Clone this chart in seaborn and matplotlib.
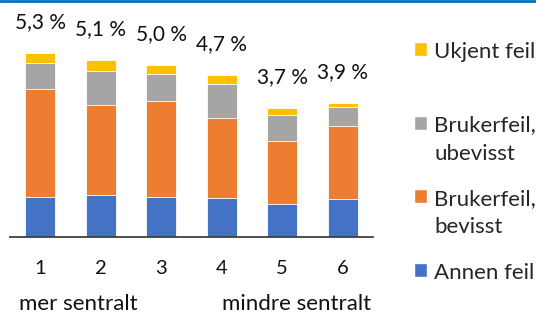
import matplotlib
matplotlib.use("Agg")
import matplotlib.pyplot as plt
import numpy as np
import pandas as pd
import seaborn as sns
from matplotlib.patches import Patch
from matplotlib.lines import Line2D

# data (share of cases, %)
categories = ["1", "2", "3", "4", "5", "6"]
annen_feil = [1.15, 1.20, 1.16, 1.11, 0.94, 1.08]
bruker_bevisst = [3.12, 2.61, 2.75, 2.31, 1.81, 2.10]
bruker_ubevisst = [0.74, 0.98, 0.79, 0.97, 0.76, 0.56]
ukjent_feil = [0.29, 0.31, 0.26, 0.28, 0.21, 0.12]
totals = [5.3, 5.1, 5.0, 4.7, 3.7, 3.9]

series = ["Annen feil", "Brukerfeil, bevisst", "Brukerfeil, ubevisst", "Ukjent feil"]
# every label two lines high so the legend rows are evenly spaced
legend_labels = ["Annen feil\n ", "Brukerfeil,\nbevisst", "Brukerfeil,\nubevisst", "Ukjent feil\n "]
COLORS = ["#4472C4", "#ED7D31", "#A5A5A5", "#FFC000"]

sns.set_style("white")
plt.rcParams["font.family"] = ["Lato", "DejaVu Sans"]

df = pd.DataFrame({"kat": categories, series[0]: annen_feil, series[1]: bruker_bevisst,
                   series[2]: bruker_ubevisst, series[3]: ukjent_feil})
cum = df[series].cumsum(axis=1)

fig = plt.figure(figsize=(5.36, 3.14), dpi=100)
ax = fig.add_axes([0.0187, 0.246, 0.677, 0.663])

# stacked bars: draw cumulative heights from the top segment down
for name, color in reversed(list(zip(series, COLORS))):
    sns.barplot(x=df["kat"], y=cum[name], color=color, width=0.5, ax=ax,
                edgecolor="white", linewidth=0.6, saturation=1)

for i, tot in enumerate(totals):
    ax.annotate(f"{tot:.1f} %".replace(".", ","), (i, cum[series[-1]][i]),
                xytext=(0, 22), textcoords="offset points", ha="center", va="center",
                fontsize=15, color="#111111", annotation_clip=False)

ax.set_xlim(-0.5, 5.5)
ax.set_ylim(0, 6)
ax.set_xlabel("")
ax.set_ylabel("")
ax.set_yticks([])
ax.tick_params(axis="x", length=0, pad=17, labelsize=14.5, labelcolor="#111111")
sns.despine(ax=ax, left=True)
ax.spines["bottom"].set_color("#404040")
ax.spines["bottom"].set_linewidth(1.3)

fig.text(19 / 536, 1 - 304 / 314, "mer sentralt", ha="left", va="center", fontsize=16, color="#111111")
fig.text(371 / 536, 1 - 304 / 314, "mindre sentralt", ha="right", va="center", fontsize=16, color="#111111")

handles = [Patch(facecolor=c) for c in COLORS]
leg = fig.legend(handles[::-1], legend_labels[::-1], loc="upper left",
                 bbox_to_anchor=(414 / 536, 1 - 42 / 314),
                 frameon=False, fontsize=16, handlelength=0.6, handleheight=0.6,
                 handletextpad=0.32, labelspacing=1.15, borderaxespad=0, borderpad=0)
for t in leg.get_texts():
    t.set_linespacing(1.5)
# put the colour square next to the first line of each label
for col in leg._legend_handle_box.get_children():
    for row in col.get_children():
        row.align = "top"

fig.add_artist(Line2D([0, 1], [0.997, 0.997], transform=fig.transFigure, color="#0070C0", linewidth=2))

fig.savefig("out.png", dpi=100)
